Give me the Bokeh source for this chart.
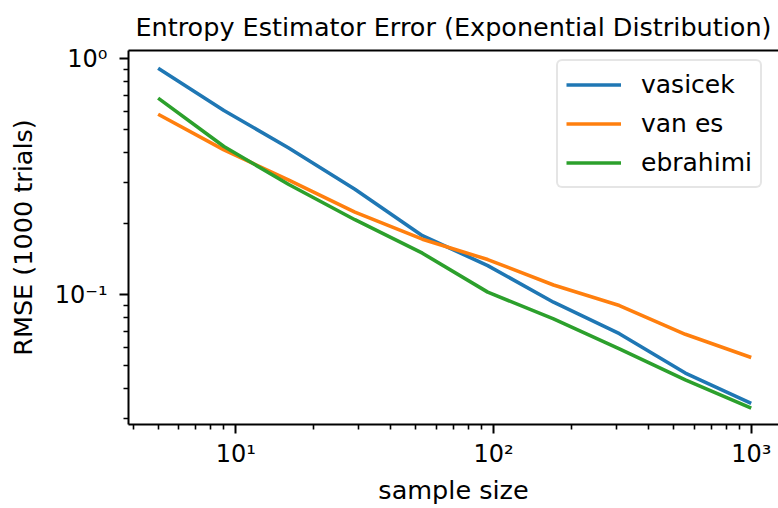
from bokeh.plotting import figure
from bokeh.models import Range1d, FixedTicker, LogAxis, Legend, LegendItem
from bokeh.embed import file_html
from bokeh.resources import INLINE

# ---- data ----
sample_size = [5, 9, 16, 29, 53, 95, 171, 308, 555, 1000]
vasicek = [0.912, 0.604, 0.420, 0.280, 0.178, 0.133, 0.093, 0.0684, 0.0466, 0.0347]
van_es = [0.582, 0.411, 0.307, 0.224, 0.172, 0.141, 0.110, 0.090, 0.068, 0.0542]
ebrahimi = [0.681, 0.425, 0.294, 0.208, 0.150, 0.1026, 0.079, 0.059, 0.0436, 0.0331]
series_names = ["vasicek", "van es", "ebrahimi"]
series_colors = ["#1f77b4", "#ff7f0e", "#2ca02c"]

x_major = [10, 100, 1000]
x_major_labels = ["10\u00b9", "10\u00b2", "10\u00b3"]
x_minor = [4, 5, 6, 7, 8, 9, 20, 30, 40, 50, 60, 70, 80, 90,
           200, 300, 400, 500, 600, 700, 800, 900]
y_major = [0.1, 1]
y_major_labels = ["10\u207b\u00b9", "10\u2070"]
y_minor = [0.03, 0.04, 0.05, 0.06, 0.07, 0.08, 0.09,
           0.2, 0.3, 0.4, 0.5, 0.6, 0.7, 0.8, 0.9]

FONT = "DejaVu Sans"

p = figure(width=778, height=508, x_axis_type="log", y_axis_type="log",
           x_range=Range1d(3.837, 1276), y_range=Range1d(0.02821, 1.084),
           output_backend="svg", toolbar_location=None,
           min_border_left=128, min_border_right=0,
           min_border_top=50, min_border_bottom=84)

p.title.text = "Entropy Estimator Error (Exponential Distribution)"
p.title.align = "center"
p.title.text_font = FONT
p.title.text_font_size = "25.5px"
p.title.text_font_style = "normal"
p.title.text_color = "black"
p.title.standoff = 17

p.outline_line_color = None
p.xgrid.visible = False
p.ygrid.visible = False

renderers = []
for vals, color in zip([vasicek, van_es, ebrahimi], series_colors):
    r = p.line(sample_size, vals, line_color=color, line_width=3.6)
    renderers.append(r)

def style_axis(ax):
    ax.axis_line_width = 2
    ax.axis_line_color = "black"
    ax.major_tick_line_width = 2
    ax.minor_tick_line_width = 1.6
    ax.major_tick_line_color = "black"
    ax.minor_tick_line_color = "black"
    ax.major_tick_in = 0
    ax.minor_tick_in = 0
    ax.major_tick_out = 9
    ax.minor_tick_out = 5
    ax.major_label_text_font = FONT
    ax.major_label_text_font_size = "24px"
    ax.major_label_text_color = "black"
    ax.axis_label_text_font = FONT
    ax.axis_label_text_font_size = "25.5px"
    ax.axis_label_text_font_style = "normal"
    ax.axis_label_text_color = "black"

xa = p.xaxis[0]
ya = p.yaxis[0]
style_axis(xa)
style_axis(ya)
xa.ticker = FixedTicker(ticks=x_major, minor_ticks=x_minor)
ya.ticker = FixedTicker(ticks=y_major, minor_ticks=y_minor)
xa.major_label_overrides = dict(zip(x_major, x_major_labels))
ya.major_label_overrides = dict(zip(y_major, y_major_labels))
xa.axis_label = "sample size"
ya.axis_label = "RMSE (1000 trials)"
xa.major_label_standoff = 6
xa.axis_label_standoff = 4
ya.major_label_standoff = 12
ya.axis_label_standoff = 14

top = LogAxis(ticker=FixedTicker(ticks=[]))
style_axis(top)
top.major_tick_out = 0
top.minor_tick_out = 0
p.add_layout(top, "above")

legend = Legend(items=[LegendItem(label=n, renderers=[r]) for n, r in zip(series_names, renderers)],
                location=(428, 236))
legend.label_text_font = FONT
legend.label_text_font_size = "25px"
legend.label_text_color = "black"
legend.glyph_width = 55
legend.glyph_height = 31
legend.label_height = 31
legend.spacing = 8
legend.padding = 8
legend.label_standoff = 20
legend.margin = 0
legend.border_line_color = "#cccccc"
legend.border_line_width = 2
legend.border_radius = 6
legend.background_fill_alpha = 0.8
p.add_layout(legend)

open("out.html", "w").write(file_html(p, INLINE))
